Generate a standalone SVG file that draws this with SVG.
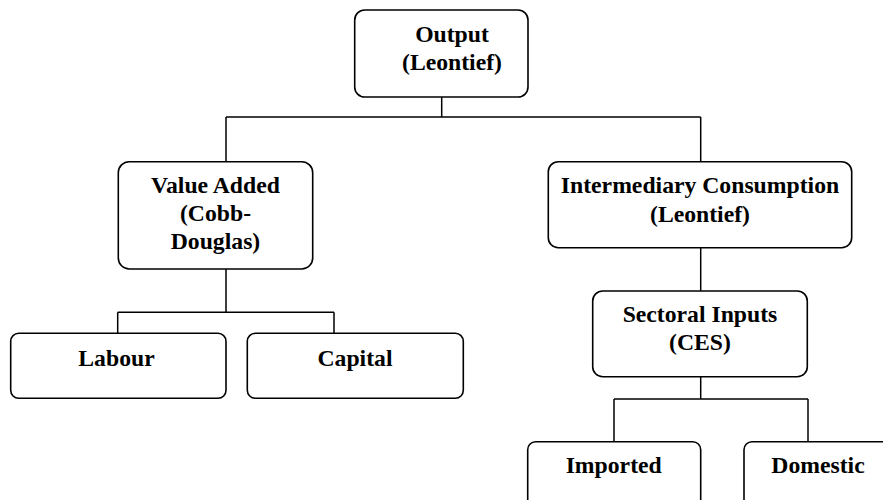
<svg xmlns="http://www.w3.org/2000/svg" width="883" height="500" viewBox="0 0 883 500">
<style>
.box{fill:#fff;stroke:#000;stroke-width:1.6}
.t{font-family:"Liberation Serif","Times New Roman",serif;font-weight:bold;font-size:23.7px;fill:#000;text-anchor:middle}
.c{fill:none;stroke:#000;stroke-width:1.5}
</style>
<rect width="883" height="500" fill="#fff"/>
<g id="connectors">
<path class="c" d="M441.7,97 V117 M226,117 H700.7 M226,117 V161.7 M700.7,117 V161.7"/>
<path class="c" d="M226,269 V312.3 M117.7,312.3 H334 M117.7,312.3 V333.3 M334,312.3 V333.3"/>
<path class="c" d="M700.7,247.7 V291"/>
<path class="c" d="M700.7,376.7 V399 M614,399 H808 M614,399 V441.7 M808,399 V441.7"/>
</g>
<g id="output">
<rect class="box" x="354.7" y="10" width="173.3" height="87" rx="10"/>
<text class="t" x="452" y="42">Output</text>
<text class="t" x="452" y="70">(Leontief)</text>
</g>
<g id="value-added">
<rect class="box" x="118.3" y="161.7" width="194.4" height="107.3" rx="11"/>
<text class="t" x="215.5" y="193">Value Added</text>
<text class="t" x="215.5" y="221">(Cobb-</text>
<text class="t" x="215.5" y="248.5">Douglas)</text>
</g>
<g id="intermediary">
<rect class="box" x="548.3" y="161.7" width="303.4" height="86" rx="10"/>
<text class="t" x="700" y="193.3">Intermediary Consumption</text>
<text class="t" x="700" y="221.7">(Leontief)</text>
</g>
<g id="labour">
<rect class="box" x="10.7" y="333.3" width="215.3" height="65" rx="8"/>
<text class="t" x="116.5" y="366">Labour</text>
</g>
<g id="capital">
<rect class="box" x="247.3" y="333.3" width="216" height="65" rx="8"/>
<text class="t" x="355" y="366">Capital</text>
</g>
<g id="sectoral">
<rect class="box" x="592.7" y="291" width="214.6" height="85.7" rx="10"/>
<text class="t" x="700" y="321.7">Sectoral Inputs</text>
<text class="t" x="700" y="350">(CES)</text>
</g>
<g id="imported">
<rect class="box" x="527.7" y="441.7" width="173" height="80" rx="8"/>
<text class="t" x="613.7" y="472.7">Imported</text>
</g>
<g id="domestic">
<rect class="box" x="744" y="441.7" width="150" height="80" rx="8"/>
<text class="t" x="818" y="472.7">Domestic</text>
</g>
</svg>
